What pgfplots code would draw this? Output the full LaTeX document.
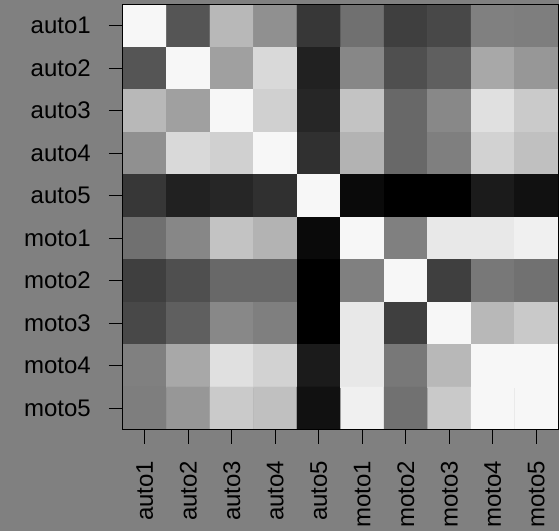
\documentclass[border=0pt]{standalone}
\usepackage{pgfplots}
\pgfplotsset{compat=1.18}
\usepackage{fontspec}
\setmainfont{Liberation Sans}
\definecolor{bg}{RGB}{128,128,128}
\begin{document}
\begin{tikzpicture}
\fill[bg] (-123bp,-101.5bp) rectangle (436bp,429.5bp);
\useasboundingbox (-123bp,-101.5bp) rectangle (436bp,429.5bp);
\begin{axis}[
  at={(0,0)}, anchor=south west,
  scale only axis, width=435bp, height=425.2bp,
  xmin=-0.5, xmax=9.5, ymin=-0.5, ymax=9.5, y dir=reverse,
  enlargelimits=false, axis on top,
  xtick={0,...,9}, ytick={0,...,9},
  xticklabels={auto1,auto2,auto3,auto4,auto5,moto1,moto2,moto3,moto4,moto5},
  yticklabels={auto1,auto2,auto3,auto4,auto5,moto1,moto2,moto3,moto4,moto5},
  tick align=outside, major tick length=14bp,
  tick style={black, line width=1bp},
  axis line style={black, line width=1bp},
  xtick pos=bottom, ytick pos=left,
  tick label style={font=\fontsize{24bp}{28bp}\selectfont, inner sep=0pt, text=black},
  xticklabel style={rotate=90, anchor=east},
  yticklabel style={anchor=east},
  xticklabel shift=17bp, yticklabel shift=18bp,
]
\addplot[matrix plot*, mesh/cols=10, mesh/color input=explicit, point meta=explicit symbolic] table[meta=c] {
x y c
0 0 gray=0.969
1 0 gray=0.333
2 0 gray=0.722
3 0 gray=0.565
4 0 gray=0.216
5 0 gray=0.439
6 0 gray=0.247
7 0 gray=0.282
8 0 gray=0.502
9 0 gray=0.494
0 1 gray=0.333
1 1 gray=0.969
2 1 gray=0.627
3 1 gray=0.851
4 1 gray=0.129
5 1 gray=0.529
6 1 gray=0.310
7 1 gray=0.373
8 1 gray=0.659
9 1 gray=0.592
0 2 gray=0.722
1 2 gray=0.627
2 2 gray=0.969
3 2 gray=0.816
4 2 gray=0.149
5 2 gray=0.765
6 2 gray=0.408
7 2 gray=0.533
8 2 gray=0.878
9 2 gray=0.792
0 3 gray=0.565
1 3 gray=0.851
2 3 gray=0.816
3 3 gray=0.969
4 3 gray=0.188
5 3 gray=0.702
6 3 gray=0.408
7 3 gray=0.498
8 3 gray=0.824
9 3 gray=0.753
0 4 gray=0.216
1 4 gray=0.129
2 4 gray=0.149
3 4 gray=0.188
4 4 gray=0.969
5 4 gray=0.039
6 4 gray=0.000
7 4 gray=0.000
8 4 gray=0.106
9 4 gray=0.067
0 5 gray=0.439
1 5 gray=0.529
2 5 gray=0.765
3 5 gray=0.702
4 5 gray=0.039
5 5 gray=0.969
6 5 gray=0.502
7 5 gray=0.910
8 5 gray=0.910
9 5 gray=0.941
0 6 gray=0.247
1 6 gray=0.310
2 6 gray=0.408
3 6 gray=0.408
4 6 gray=0.000
5 6 gray=0.502
6 6 gray=0.969
7 6 gray=0.247
8 6 gray=0.471
9 6 gray=0.443
0 7 gray=0.282
1 7 gray=0.373
2 7 gray=0.533
3 7 gray=0.498
4 7 gray=0.000
5 7 gray=0.910
6 7 gray=0.247
7 7 gray=0.969
8 7 gray=0.722
9 7 gray=0.788
0 8 gray=0.502
1 8 gray=0.659
2 8 gray=0.878
3 8 gray=0.824
4 8 gray=0.106
5 8 gray=0.910
6 8 gray=0.471
7 8 gray=0.722
8 8 gray=0.969
9 8 gray=0.969
0 9 gray=0.494
1 9 gray=0.592
2 9 gray=0.792
3 9 gray=0.753
4 9 gray=0.067
5 9 gray=0.941
6 9 gray=0.443
7 9 gray=0.788
8 9 gray=0.969
9 9 gray=0.969
};
\end{axis}
\end{tikzpicture}
\end{document}
